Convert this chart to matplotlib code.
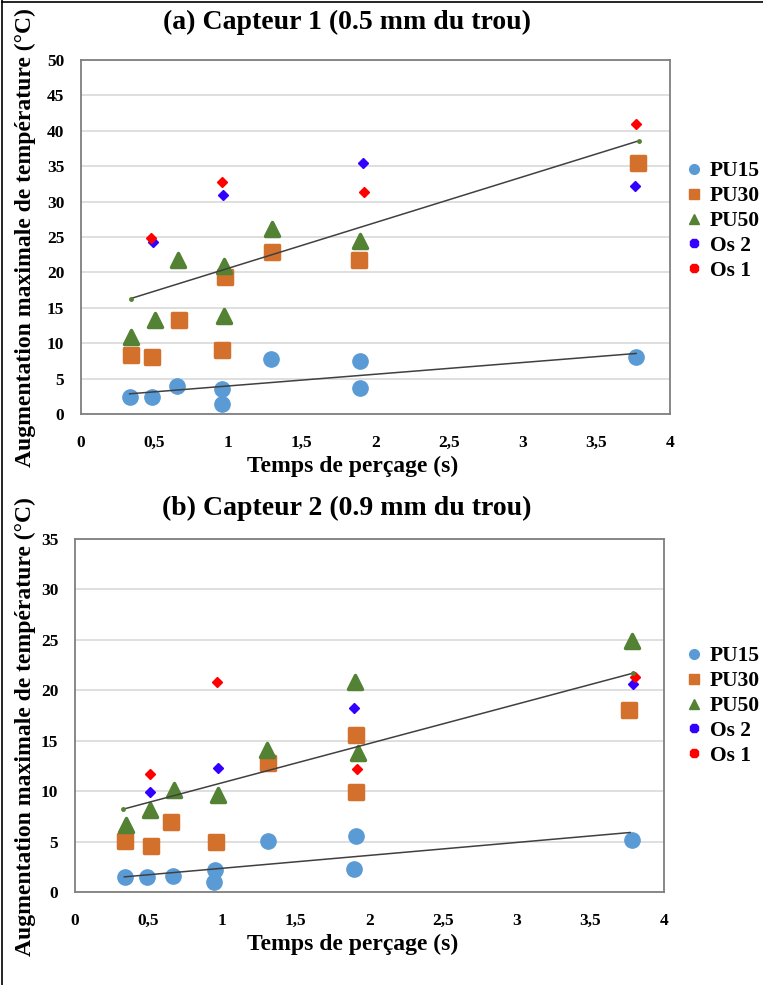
import matplotlib
matplotlib.use("Agg")
import matplotlib.pyplot as plt
from matplotlib.lines import Line2D
from matplotlib.markers import MarkerStyle

plt.rcParams['font.family'] = ['Liberation Serif', 'DejaVu Serif']
plt.rcParams['font.weight'] = 'bold'

# ---- (a) capteur 1 ----
a_pu15_x = [0.33, 0.48, 0.65, 0.955, 0.96, 1.29, 1.895, 1.895, 3.77]
a_pu15_y = [2.4, 2.4, 3.9, 3.6, 1.4, 7.7, 7.5, 3.7, 8.0]
a_pu30_x = [0.34, 0.48, 0.665, 0.975, 0.955, 1.30, 1.89, 3.78]
a_pu30_y = [8.4, 8.0, 13.3, 19.3, 9.1, 22.9, 21.8, 35.5]
a_pu50_x = [0.34, 0.50, 0.66, 0.97, 0.97, 1.30, 1.895]
a_pu50_y = [10.9, 13.3, 21.7, 20.9, 13.8, 26.1, 24.4]
a_os2_x = [0.487, 0.962, 1.913, 3.765]
a_os2_y = [24.25, 31.0, 35.5, 32.2]
a_os1_x = [0.475, 0.958, 1.92, 3.77]
a_os1_y = [24.8, 32.8, 31.3, 41.0]
a_trend_hi_x = [0.337, 3.79]
a_trend_hi_y = [16.3, 38.6]
a_trend_lo_x = [0.33, 3.77]
a_trend_lo_y = [2.85, 8.55]

# ---- (b) capteur 2 ----
b_pu15_x = [0.34, 0.49, 0.668, 0.953, 0.946, 1.309, 1.908, 1.895, 3.78]
b_pu15_y = [1.45, 1.45, 1.55, 2.2, 1.0, 5.1, 5.55, 2.25, 5.2]
b_pu30_x = [0.34, 0.516, 0.654, 0.96, 1.309, 1.908, 1.908, 3.765]
b_pu30_y = [5.1, 4.6, 6.9, 5.0, 12.75, 15.6, 9.9, 18.0]
b_pu50_x = [0.344, 0.507, 0.672, 0.972, 1.306, 1.90, 1.924, 3.785]
b_pu50_y = [6.6, 8.1, 10.1, 9.6, 14.1, 20.8, 13.8, 24.9]
b_os2_x = [0.507, 0.972, 1.893, 3.79]
b_os2_y = [9.9, 12.25, 18.2, 20.6]
b_os1_x = [0.507, 0.964, 1.913, 3.80]
b_os1_y = [11.7, 20.8, 12.2, 21.3]
b_trend_hi_x = [0.324, 3.79]
b_trend_hi_y = [8.2, 21.7]
b_trend_lo_x = [0.335, 3.77]
b_trend_lo_y = [1.5, 5.9]

x_ticks = [0, 0.5, 1, 1.5, 2, 2.5, 3, 3.5, 4]
x_tick_labels = ['0', '0,5', '1', '1,5', '2', '2,5', '3', '3,5', '4']
series_names = ['PU15', 'PU30', 'PU50', 'Os 2', 'Os 1']

c15 = '#5B9BD5'
c30 = '#D2702C'
c50 = '#548235'
cos2 = '#3300FF'
cos1 = '#FF0000'

fig = plt.figure(figsize=(7.63, 9.85), dpi=100)


def panel(rect, ymax, pts, trend_hi, trend_lo, title, title_y, ylab_y, leg_y):
    ax = fig.add_axes(rect)
    ax.set_xlim(0, 4)
    ax.set_ylim(0, ymax)
    ax.set_yticks(range(0, ymax + 1, 5))
    ax.set_xticks(x_ticks)
    ax.set_xticklabels(x_tick_labels)
    ax.tick_params(length=0, labelsize=12.5)
    ax.tick_params(axis='x', pad=15)
    ax.tick_params(axis='y', pad=12)
    ax.yaxis.grid(True, color='#D9D9D9', lw=1.2)
    ax.set_axisbelow(True)
    for s in ax.spines.values():
        s.set_color('#7F7F7F')
        s.set_linewidth(1.3)

    (x15, y15), (x30, y30), (x50, y50), (xo2, yo2), (xo1, yo1) = pts
    ax.plot(x15, y15, ls='none', marker='o', ms=11, color=c15)
    ax.plot(x30, y30, ls='none', marker=MarkerStyle('s', joinstyle='round'),
            ms=9.5, mew=2.5, color=c30)
    ax.plot(x50, y50, ls='none', marker=MarkerStyle('^', joinstyle='round'),
            ms=9.5, mew=2.5, color=c50)
    ax.plot(xo2, yo2, ls='none', marker='D', ms=5.5, color=cos2)
    ax.plot(xo1, yo1, ls='none', marker='D', ms=5.5, color=cos1)

    ax.plot(trend_hi[0], trend_hi[1], color='#404040', lw=1.1,
            marker='o', ms=2.5, mfc=c50, mec=c50)
    ax.plot(trend_lo[0], trend_lo[1], color='#404040', lw=1.1)

    fig.text(347 / 763, 1 - title_y / 985, title, ha='center', va='center',
             fontsize=20, fontweight='bold')
    fig.text(25 / 763, 1 - ylab_y / 985, 'Augmentation maximale de température (°C)',
             rotation=90, ha='center', va='center', fontsize=17, fontweight='bold')
    ax.set_xlabel('Temps de perçage (s)', fontsize=17, fontweight='bold')
    ax.xaxis.set_label_coords((353 - rect[0] * 763) / (rect[2] * 763), -0.118)

    handles = [
        Line2D([], [], ls='none', marker='o', ms=7, color=c15),
        Line2D([], [], ls='none', marker='s', ms=6.5, color=c30),
        Line2D([], [], ls='none', marker='^', ms=7, color=c50),
        Line2D([], [], ls='none', marker='8', ms=6, color=cos2),
        Line2D([], [], ls='none', marker='8', ms=6, color=cos1),
    ]
    fig.legend(handles, series_names, loc='center left',
               bbox_to_anchor=(685 / 763, 1 - leg_y / 985), frameon=False,
               prop={'family': 'Liberation Serif', 'weight': 'bold', 'size': 15.5},
               handlelength=0.8, handletextpad=0.35, labelspacing=0.22,
               borderaxespad=0, borderpad=0)
    return ax


ax1 = panel([81 / 763, 1 - 414 / 985, 589 / 763, 354 / 985], 50,
            [(a_pu15_x, a_pu15_y), (a_pu30_x, a_pu30_y), (a_pu50_x, a_pu50_y),
             (a_os2_x, a_os2_y), (a_os1_x, a_os1_y)],
            (a_trend_hi_x, a_trend_hi_y), (a_trend_lo_x, a_trend_lo_y),
            '(a) Capteur 1 (0.5 mm du trou)', 22, 238, 221)

ax2 = panel([75 / 763, 1 - 892 / 985, 589 / 763, 353 / 985], 35,
            [(b_pu15_x, b_pu15_y), (b_pu30_x, b_pu30_y), (b_pu50_x, b_pu50_y),
             (b_os2_x, b_os2_y), (b_os1_x, b_os1_y)],
            (b_trend_hi_x, b_trend_hi_y), (b_trend_lo_x, b_trend_lo_y),
            '(b) Capteur 2 (0.9 mm du trou)', 508, 727, 706)

# page frame (top and left)
fig.add_artist(Line2D([2 / 763, 2 / 763], [0, 1], transform=fig.transFigure,
                      color='black', lw=1.2))
fig.add_artist(Line2D([2 / 763, 1], [1 - 1.5 / 985, 1 - 1.5 / 985],
                      transform=fig.transFigure, color='black', lw=1.2))

fig.savefig('out.png', dpi=100)
